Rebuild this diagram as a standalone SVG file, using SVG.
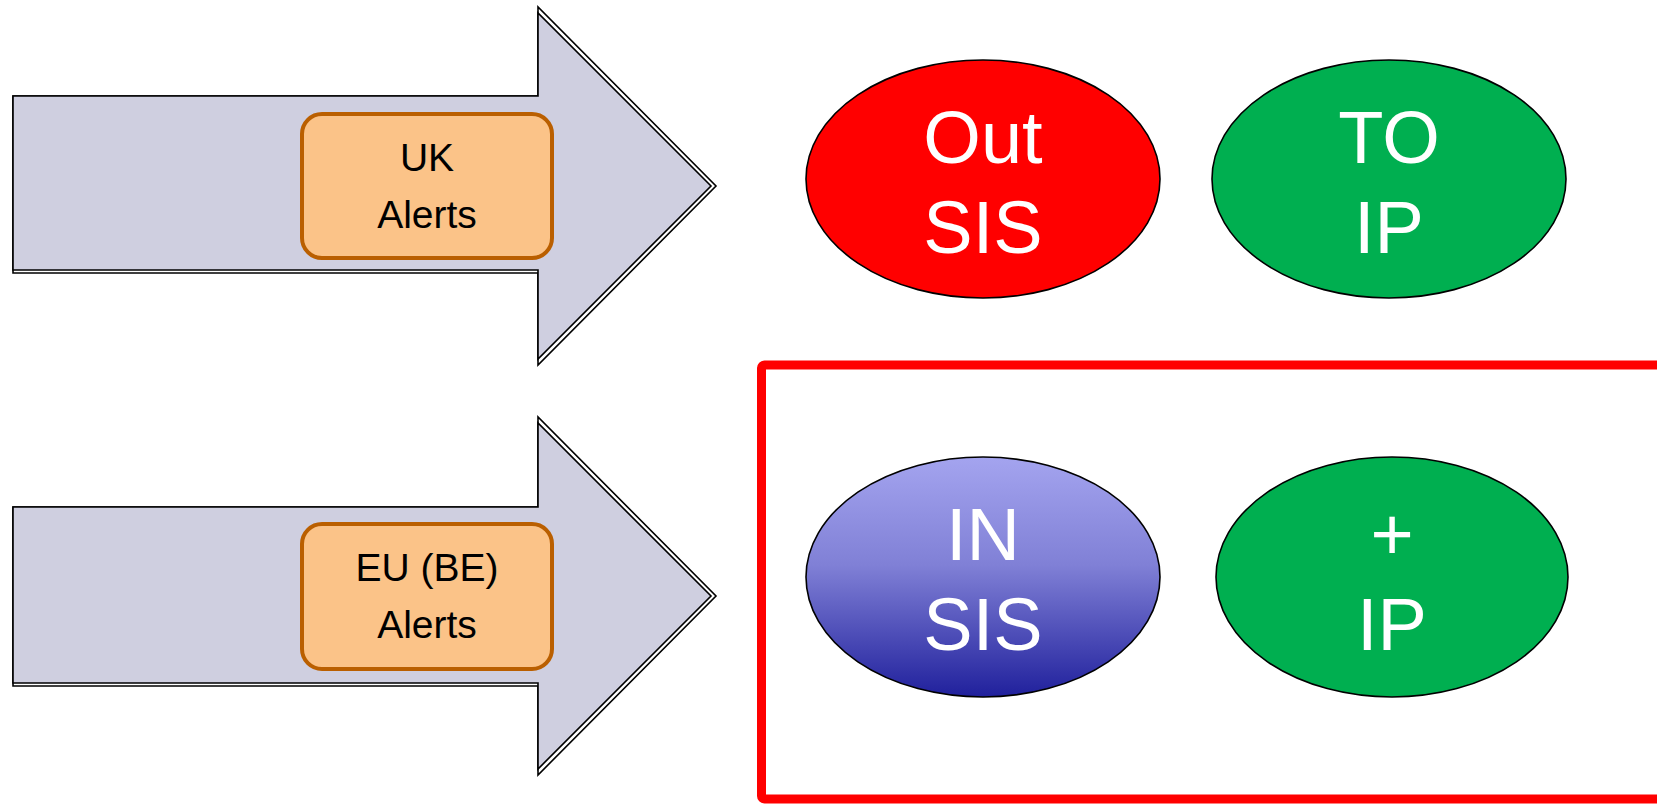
<svg xmlns="http://www.w3.org/2000/svg" width="1657" height="804" viewBox="0 0 1657 804">
<defs>
<linearGradient id="gBlue" x1="0" y1="0" x2="0" y2="1">
<stop offset="0" stop-color="#A4A4EF"/>
<stop offset="0.45" stop-color="#8080D6"/>
<stop offset="1" stop-color="#20209C"/>
</linearGradient>
<style>
.arrowOuter{fill:#ffffff;stroke:#000;stroke-width:1.6}
.arrowInner{fill:#CFCFE0;stroke:#000;stroke-width:1.6}
.label{fill:#FBC388;stroke:#BA5F00;stroke-width:4}
.lt{font-family:"Liberation Sans",Arial,sans-serif;font-size:39px;fill:#000;text-anchor:middle}
.et{font-family:"Liberation Sans",Arial,sans-serif;font-size:74px;fill:#fff;text-anchor:middle}
.ell{stroke:#000;stroke-width:1.6}
</style>
</defs>
<g id="arrow-uk">
<polygon class="arrowOuter" points="13,96 538,96 538,7 716,186 538,365 538,273 13,273"/>
<polygon class="arrowInner" points="13,96 538,96 538,13 711,186 538,359 538,270 13,270"/>
<rect class="label" x="302" y="114" width="250" height="144" rx="20"/>
<text class="lt" x="427" y="171">UK</text>
<text class="lt" x="427" y="228">Alerts</text>
</g>
<g id="arrow-eu">
<polygon class="arrowOuter" points="13,507 538,507 538,417 716,596 538,775 538,686 13,686"/>
<polygon class="arrowInner" points="13,507 538,507 538,423 711,596 538,769 538,683 13,683"/>
<rect class="label" x="302" y="524" width="250" height="145" rx="20"/>
<text class="lt" x="427" y="581">EU (BE)</text>
<text class="lt" x="427" y="638">Alerts</text>
</g>
<g id="out-sis">
<ellipse class="ell" cx="983" cy="179" rx="177" ry="119" fill="#FF0000"/>
<text class="et" x="983" y="163">Out</text>
<text class="et" x="983" y="253">SIS</text>
</g>
<g id="to-ip">
<ellipse class="ell" cx="1389" cy="179" rx="177" ry="119" fill="#00AF50"/>
<text class="et" x="1389" y="163">TO</text>
<text class="et" x="1389" y="253">IP</text>
</g>
<g id="in-box">
<rect x="761.5" y="365" width="920" height="434" rx="3" fill="none" stroke="#FF0000" stroke-width="9"/>
</g>
<g id="in-sis">
<ellipse class="ell" cx="983" cy="577" rx="177" ry="120" fill="url(#gBlue)"/>
<text class="et" x="983" y="560">IN</text>
<text class="et" x="983" y="650">SIS</text>
</g>
<g id="plus-ip">
<ellipse class="ell" cx="1392" cy="577" rx="176" ry="120" fill="#00AF50"/>
<text class="et" x="1392" y="560">+</text>
<text class="et" x="1392" y="650">IP</text>
</g>
<g id="connectors"></g>
</svg>
